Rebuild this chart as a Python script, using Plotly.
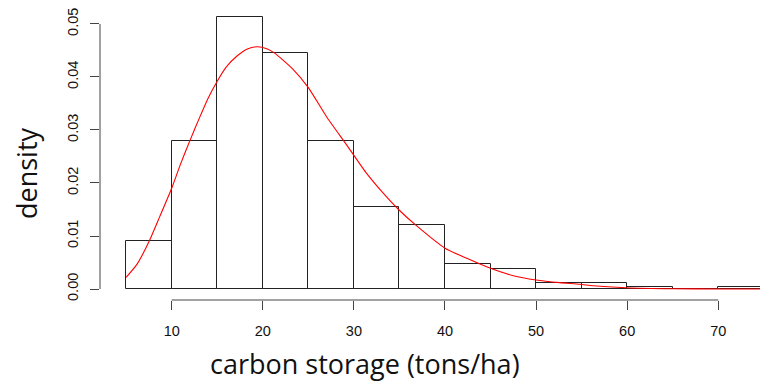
import plotly.graph_objects as go

# Histogram bins (left edges, width 5) and densities
bin_left = [5, 10, 15, 20, 25, 30, 35, 40, 45, 50, 55, 60, 65, 70]
bin_width = 5
bin_density = [0.0090, 0.0280, 0.0514, 0.0445, 0.0280, 0.0154, 0.0120,
               0.0048, 0.0038, 0.0012, 0.0012, 0.0004, 0.0, 0.0004]

# Density curve
curve_x = [5.0, 6.2, 7.5, 8.7, 10.0, 11.0, 12.0, 13.0, 14.0, 15.0, 16.0, 17.2,
           18.3, 19.4, 20.5, 21.3, 23.3, 25.0, 27.0, 29.2, 31.4, 33.0, 34.9,
           36.9, 40.0, 42.4, 45.0, 47.5, 50.0, 52.6, 54.8, 56.3, 59.9, 65.0,
           70.0, 75.0]
curve_y = [0.0022, 0.0047, 0.0089, 0.0137, 0.0190, 0.0237, 0.0280, 0.0321,
           0.0360, 0.0392, 0.0419, 0.0440, 0.0453, 0.0457, 0.0453, 0.0445,
           0.0415, 0.0380, 0.0325, 0.0272, 0.0218, 0.0185, 0.0150, 0.0119,
           0.0077, 0.0058, 0.0039, 0.0025, 0.0017, 0.0012, 0.0009, 0.0006,
           0.00025, 0.00006, 0.00001, 0.0]

x_ticks = [10, 20, 30, 40, 50, 60, 70]
y_ticks = [0.00, 0.01, 0.02, 0.03, 0.04, 0.05]
y_tick_text = ["0.00", "0.01", "0.02", "0.03", "0.04", "0.05"]

x_title = "carbon storage (tons/ha)"
y_title = "density"

centers = [b + bin_width / 2 for b in bin_left]

fig = go.Figure()
fig.add_trace(go.Bar(
    x=centers, y=bin_density, width=bin_width,
    marker=dict(color="rgba(255,255,255,0)", line=dict(color="#222222", width=1)),
    hoverinfo="skip", showlegend=False,
))
fig.add_trace(go.Scatter(
    x=curve_x, y=curve_y, mode="lines",
    line=dict(color="#ff0000", width=1.1, shape="spline", smoothing=0.6),
    showlegend=False,
))

W, H = 760, 381
ml, mr, mt, mb = 100, 0, 5, 81

fig.update_layout(
    width=W, height=H,
    margin=dict(l=ml, r=mr, t=mt, b=mb),
    paper_bgcolor="white", plot_bgcolor="white",
    bargap=0,
    xaxis=dict(
        range=[2.13, 74.58], showgrid=False, zeroline=False, showline=False,
        tickmode="array", tickvals=x_ticks, ticks="outside", ticklen=9,
        tickcolor="#444444", tickwidth=1, ticklabelstandoff=9,
        tickfont=dict(family="Liberation Sans, Arial, sans-serif", size=14.5, color="#111111"),
    ),
    yaxis=dict(
        range=[-0.002075, 0.05358], showgrid=False, zeroline=False, showline=False,
        tickmode="array", tickvals=y_ticks, ticktext=y_tick_text, ticks="outside",
        ticklen=9, tickcolor="#444444", tickwidth=1, tickangle=-90,
        ticklabelstandoff=6,
        tickfont=dict(family="Liberation Sans, Arial, sans-serif", size=14.5, color="#111111"),
    ),
)

# R-style axis lines spanning only the tick range
fig.add_shape(type="line", xref="x", yref="paper", x0=x_ticks[0], x1=x_ticks[-1],
              y0=0, y1=0, line=dict(color="#444444", width=1))
fig.add_shape(type="line", xref="paper", yref="y", x0=0, x1=0,
              y0=y_ticks[0], y1=y_ticks[-1], line=dict(color="#444444", width=1))

# Axis titles
fig.add_annotation(text=x_title, xref="paper", yref="paper",
                   x=(365 - ml) / (W - ml - mr), y=-(363 - (H - mb)) / (H - mt - mb),
                   showarrow=False, xanchor="center", yanchor="middle",
                   font=dict(family="Open Sans, sans-serif", size=27, color="#111111"))
fig.add_annotation(text=y_title, xref="paper", yref="paper",
                   x=-(ml - 26) / (W - ml - mr), y=((H - mb) - 173) / (H - mt - mb),
                   showarrow=False, xanchor="center", yanchor="middle", textangle=-90,
                   font=dict(family="Open Sans, sans-serif", size=27, color="#111111"))

fig.write_html("out.html")
